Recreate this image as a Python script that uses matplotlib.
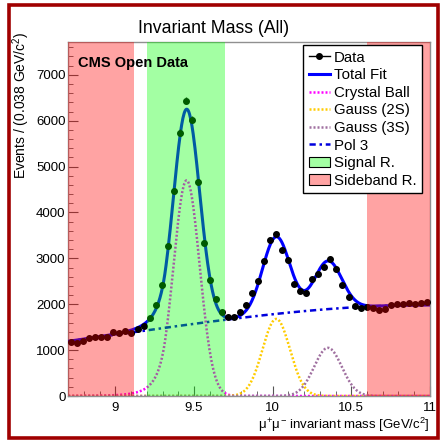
import numpy as np
import matplotlib.pyplot as plt
from matplotlib.lines import Line2D
from matplotlib.patches import Patch, Rectangle

plt.rcParams['font.family'] = ['Liberation Sans', 'DejaVu Sans']
plt.rcParams['mathtext.fontset'] = 'custom'
plt.rcParams['mathtext.rm'] = 'Liberation Sans'
plt.rcParams['mathtext.it'] = 'Liberation Sans'

# histogram: 60 bins between 8.7 and 11 GeV
mass_lo, mass_hi, n_bins = 8.7, 11.0, 60
counts = [1184, 1163, 1206, 1258, 1280, 1280, 1293, 1389, 1367, 1417,
          1380, 1454, 1533, 1690, 1975, 2420, 3271, 4477, 5742, 6440,
          6018, 4659, 3336, 2522, 2108, 1838, 1722, 1722, 1838, 1984,
          2253, 2514, 2950, 3410, 3520, 3190, 2955, 2436, 2285, 2252,
          2545, 2665, 2813, 2995, 2763, 2410, 2152, 1970, 1920, 1940,
          1912, 1875, 1890, 1984, 2000, 2006, 2021, 2006, 2021, 2050]

# fit components
cb_mean, cb_sigma, cb_alpha, cb_n, cb_amp = 9.453, 0.083, 1.6, 6.0, 4700
g2_mean, g2_sigma, g2_amp = 10.023, 0.087, 1680
g3_mean, g3_sigma, g3_amp = 10.352, 0.088, 1050
bkg_mass = [8.7, 9.45, 10.2, 11.0]
bkg_value = [1190, 1550, 1850, 1985]

signal_region = (9.2, 9.7)
sideband_regions = [(8.7, 9.12), (10.6, 11.0)]


def crystal_ball(x, mu, sigma, alpha, n):
    t = (x - mu) / sigma
    a = (n / alpha) ** n * np.exp(-alpha ** 2 / 2)
    b = n / alpha - alpha
    tail = a * np.abs(b - t) ** (-n)
    return np.where(t > -alpha, np.exp(-t ** 2 / 2), tail)


def gauss(x, mu, sigma):
    return np.exp(-0.5 * ((x - mu) / sigma) ** 2)


edges = np.linspace(mass_lo, mass_hi, n_bins + 1)
centers = 0.5 * (edges[1:] + edges[:-1])
counts = np.array(counts)

xs = np.linspace(mass_lo, mass_hi, 600)
bkg_coef = np.polyfit(bkg_mass, bkg_value, 3)
bkg = np.polyval(bkg_coef, xs)
cb = cb_amp * crystal_ball(xs, cb_mean, cb_sigma, cb_alpha, cb_n)
g2 = g2_amp * gauss(xs, g2_mean, g2_sigma)
g3 = g3_amp * gauss(xs, g3_mean, g3_sigma)
total = bkg + cb + g2 + g3

dots = (0, (0.8, 0.8))
dashdot = (0, (2.5, 1.5, 1, 1.5))

fig = plt.figure(figsize=(4.4, 4.4), dpi=100)
ax = fig.add_axes([0.155, 0.1, 0.822, 0.805])

ax.errorbar(centers, counts, yerr=np.sqrt(counts), fmt='o', color='black',
            ms=4, elinewidth=1, capsize=0, zorder=3)
ax.plot(xs, total, color='#0000ff', lw=2.2, zorder=2.8)
ax.plot(xs, cb, color='#ff00ff', lw=1.8, ls=dots, zorder=2.5)
ax.plot(xs, g2, color='#ffcc00', lw=1.8, ls=dots, zorder=2.5)
ax.plot(xs, g3, color='#a070a0', lw=1.8, ls=dots, zorder=2.5)
ax.plot(xs, bkg, color='#0000dd', lw=1.8, ls=dashdot, zorder=2.5)

# shaded regions drawn on top, like the original
ax.axvspan(*signal_region, color=(0, 1, 0), alpha=0.36, lw=0, zorder=4)
for lo, hi in sideband_regions:
    ax.axvspan(lo, hi, color=(1, 0, 0), alpha=0.36, lw=0, zorder=4)

ax.set_xlim(mass_lo, mass_hi)
ax.set_ylim(0, 7720)
ax.set_xticks([9, 9.5, 10, 10.5, 11])
ax.set_xticklabels(['9', '9.5', '10', '10.5', '11'])
ax.set_xticks(np.arange(8.7, 11.01, 0.1), minor=True)
ax.set_yticks(range(0, 7001, 1000))
ax.set_yticks(range(0, 7701, 200), minor=True)
ax.tick_params(which='both', direction='in', top=False, right=False,
               labelsize=9.5, color='#555555')
ax.tick_params(which='major', length=7)
ax.tick_params(which='minor', length=3.5)
ax.tick_params(axis='x', pad=4)
ax.tick_params(axis='y', pad=2)
for s in ax.spines.values():
    s.set_color('#909090')
    s.set_linewidth(1)

ax.set_xlabel(r'$\mu^{+}\mu^{-}$ invariant mass [GeV/c$^{2}$]', fontsize=9.5, loc='right')
ax.xaxis.set_label_coords(1.0, -0.055)
ax.set_ylabel('Events / (0.038 GeV/c$^{2}$)', fontsize=10, loc='top')
ax.yaxis.set_label_coords(-0.1, 1.028)

ax.text(0.026, 0.94, 'CMS Open Data', transform=ax.transAxes, fontsize=10.5,
        fontweight='bold', va='center', ha='left', zorder=6)
fig.text(0.485, 0.936, 'Invariant Mass (All)', fontsize=12.7, ha='center', va='center')

handles = [
    Line2D([], [], color='black', marker='o', ms=4, lw=1),
    Line2D([], [], color='#0000ff', lw=2.2),
    Line2D([], [], color='#ff00ff', lw=1.8, ls=dots),
    Line2D([], [], color='#ffcc00', lw=1.8, ls=dots),
    Line2D([], [], color='#a070a0', lw=1.8, ls=dots),
    Line2D([], [], color='#0000dd', lw=1.8, ls=dashdot),
    Patch(facecolor=(0.64, 1, 0.64), edgecolor='black', lw=0.8),
    Patch(facecolor=(1, 0.64, 0.64), edgecolor='black', lw=0.8),
]
labels = ['Data', 'Total Fit', 'Crystal Ball', 'Gauss (2S)', 'Gauss (3S)',
          'Pol 3', 'Signal R.', 'Sideband R.']
leg = ax.legend(handles, labels, loc='upper right', bbox_to_anchor=(0.978, 0.99),
                fontsize=10.8, frameon=True, fancybox=False, framealpha=1,
                edgecolor='black', borderaxespad=0, borderpad=0.35,
                labelspacing=0.24, handlelength=1.4, handletextpad=0.3)
leg.set_zorder(7)
leg.get_frame().set_linewidth(1)

# dark red frame around the picture
fig.patches.append(Rectangle((8.5 / 440, 2.5 / 440), 429 / 440, 432 / 440,
                             transform=fig.transFigure, fill=False,
                             edgecolor='#a00000', lw=2.6))

fig.savefig('out.png', dpi=100)
